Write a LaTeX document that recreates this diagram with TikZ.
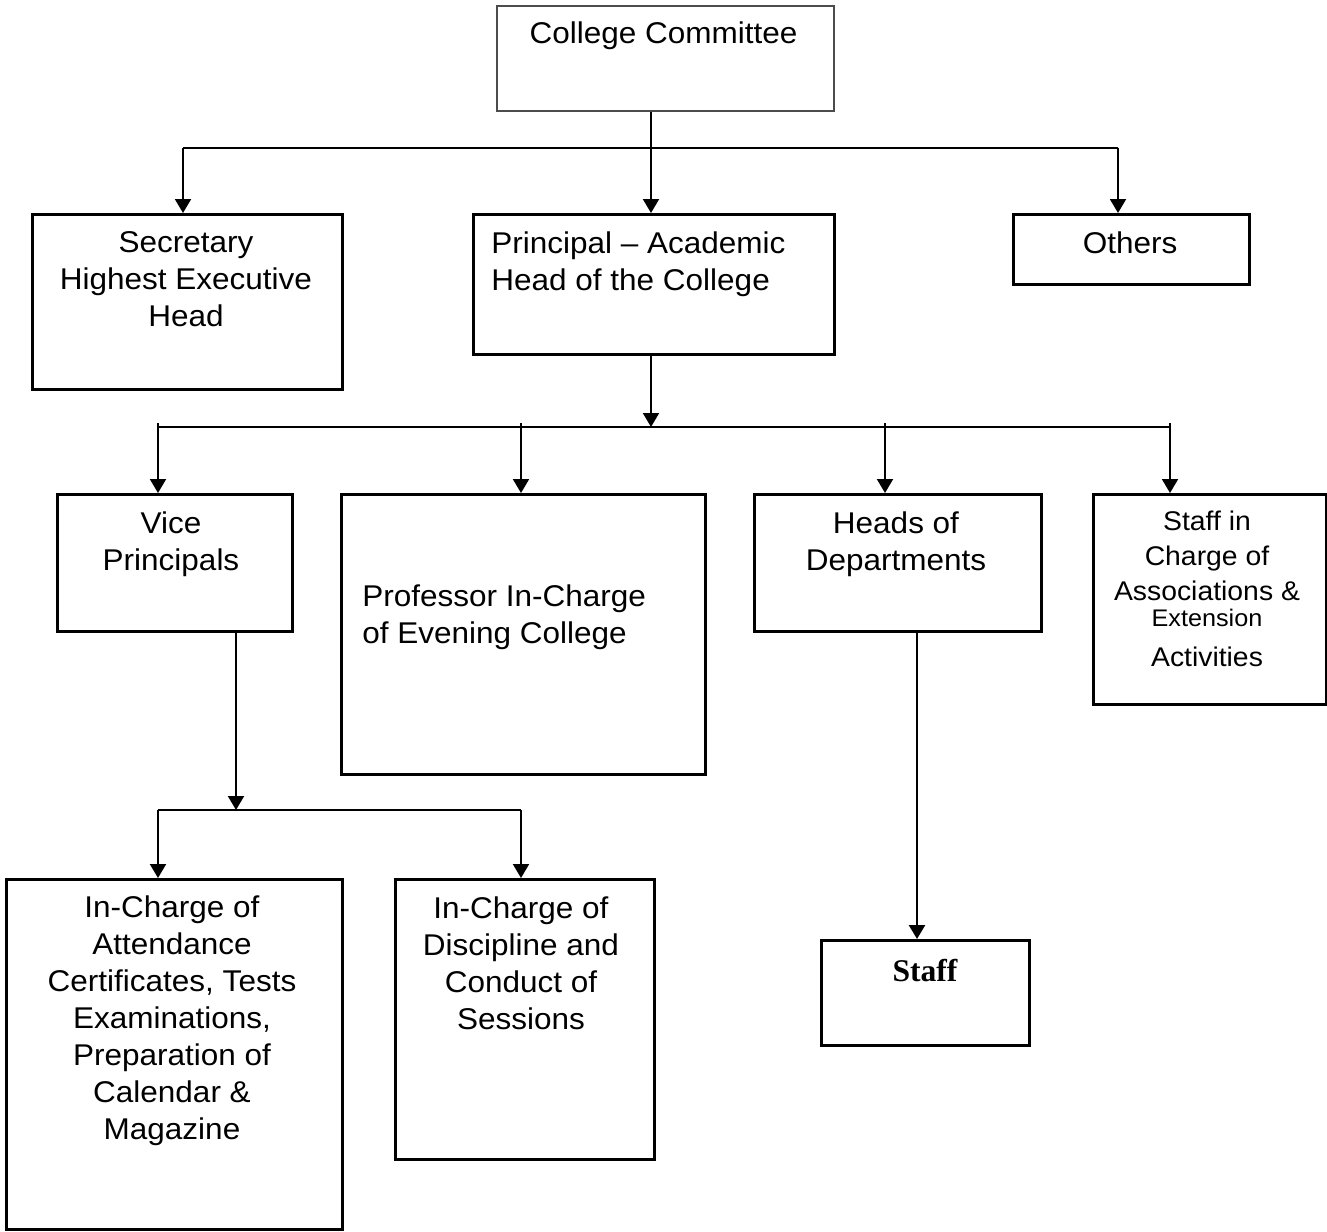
\documentclass[tikz,border=0pt]{standalone}
\usepackage{fontspec}
\setmainfont[FakeStretch=1.05]{Liberation Sans}
\newfontfamily\serifbf{Liberation Serif}
\usetikzlibrary{arrows.meta}
\begin{document}
\begin{tikzpicture}[x=0.5pt,y=-0.5pt,
  box/.style={draw, line width=1.6pt, inner sep=0pt, anchor=north west},
  txt/.style={inner sep=0pt, align=center, anchor=north, font=\fontsize{15pt}{18.5pt}\selectfont},
  txtl/.style={inner sep=0pt, align=left, anchor=north west, font=\fontsize{15pt}{18.5pt}\selectfont},
  conn/.style={line width=1pt},
  arr/.style={line width=1pt, -{Triangle[width=8pt,length=7pt]}}]
\path[use as bounding box] (0,0) rectangle (1327,1231);

% boxes
\node[box, draw=black!70, line width=1pt, minimum width=168.5pt, minimum height=52.5pt] (cc) at (496,5) {};
\node[box, minimum width=155pt, minimum height=87.5pt] (sec) at (31,213) {};
\node[box, minimum width=180.5pt, minimum height=70pt] (pri) at (472,213) {};
\node[box, minimum width=118pt, minimum height=35pt] (oth) at (1012,213) {};
\node[box, minimum width=117.5pt, minimum height=68.5pt] (vp) at (56,493) {};
\node[box, minimum width=182pt, minimum height=140pt] (prof) at (340,493) {};
\node[box, minimum width=143.5pt, minimum height=68.5pt] (hod) at (753,493) {};
\node[box, minimum width=116.5pt, minimum height=105pt] (sic) at (1092,493) {};
\node[box, minimum width=168pt, minimum height=175pt] (att) at (5,878) {};
\node[box, minimum width=129.5pt, minimum height=140pt] (dis) at (394,878) {};
\node[box, minimum width=104pt, minimum height=52.5pt] (stf) at (820,939) {};

% texts
\node[txt] (tcc) at (663.5,21.5) {College Committee};
\node[txt] (tsec) at (186,231.5) {Secretary\\Highest Executive\\Head};
\node[txtl] (tpri) at (491,231.5) {Principal – Academic\\Head of the College};
\node[txt] (toth) at (1130,231.5) {Others};
\node[txt] (tvp) at (171,511.5) {Vice\\Principals};
\node[txtl] (tprof) at (362,584.5) {Professor In-Charge\\of Evening College};
\node[txt] (thod) at (896,511.5) {Heads of\\Departments};
\node[txt, font=\fontsize{13.5pt}{17.5pt}\selectfont] (tsic) at (1207,511) {Staff in\\Charge of\\Associations \&};
\node[inner sep=0pt, anchor=base, font=\fontsize{12pt}{14pt}\selectfont] (tsic2) at (1207,626) {Extension};
\node[inner sep=0pt, anchor=base, font=\fontsize{13.5pt}{17.5pt}\selectfont] (tsic3) at (1207,666) {Activities};
\node[txt] (tatt) at (172,895.5) {In-Charge of\\Attendance\\Certificates, Tests\\Examinations,\\Preparation of\\Calendar \&\\Magazine};
\node[txt] (tdis) at (521,896.5) {In-Charge of\\Discipline and\\Conduct of\\Sessions};
\node[inner sep=0pt, anchor=base, font=\serifbf\bfseries\fontsize{15.8pt}{18pt}\selectfont] (tstf) at (925,981) {Staff};

% junction coordinates
\coordinate (j1) at (651,148);
\coordinate (j1L) at (183,148);
\coordinate (j1R) at (1118,148);
\coordinate (j2) at (651,427);
\coordinate (d1) at (158,423);
\coordinate (d2) at (521,423);
\coordinate (d3) at (885,423);
\coordinate (d4) at (1170,423);
\coordinate (j3) at (236,810);
\coordinate (e1) at (158,810);
\coordinate (e2) at (521,810);
\coordinate (h1) at (917,630);

% connectors
\draw[arr] (cc.south -| j1) -- (pri.north -| j1);
\draw[conn] (j1L) -- (j1R);
\draw[arr] (j1L) -- (sec.north -| j1L);
\draw[arr] (j1R) -- (oth.north -| j1R);

\draw[arr] (pri.south -| j2) -- (j2);
\draw[conn] (d1 |- j2) -- (d4 |- j2);
\draw[arr] (d1) -- (vp.north -| d1);
\draw[arr] (d2) -- (prof.north -| d2);
\draw[arr] (d3) -- (hod.north -| d3);
\draw[arr] (d4) -- (sic.north -| d4);

\draw[arr] (vp.south -| j3) -- (j3);
\draw[conn] (e1) -- (e2);
\draw[arr] (e1) -- (att.north -| e1);
\draw[arr] (e2) -- (dis.north -| e2);

\draw[arr, line width=1.3pt] (hod.south -| h1) -- (stf.north -| h1);
\end{tikzpicture}
\end{document}
